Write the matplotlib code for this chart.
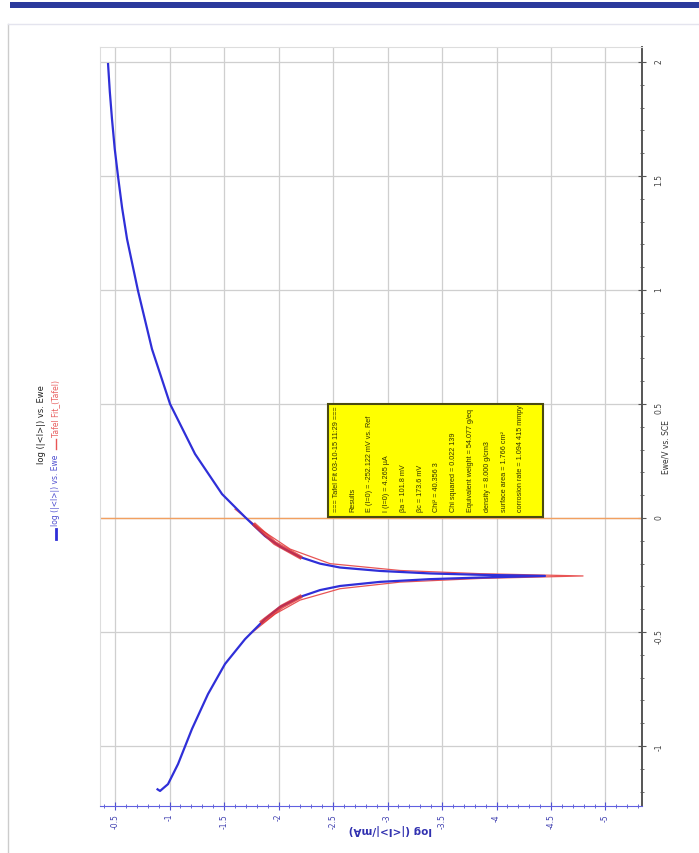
import matplotlib.pyplot as plt
import matplotlib.patches as mpatches
from matplotlib.lines import Line2D
import numpy as np

# measured curve, anodic branch then cathodic branch (log|I| , Ewe)
logi_an = [-0.436, -0.452, -0.472, -0.497, -0.528, -0.565, -0.610, -0.711, -0.839, -1.005,
           -1.234, -1.482, -1.693, -1.876, -2.015, -2.197, -2.381, -2.564, -2.931,
           -3.390, -3.849, -4.445]
ewe_an = [1.991, 1.870, 1.750, 1.620, 1.496, 1.360, 1.224, 0.996, 0.741, 0.500,
          0.281, 0.105, 0.004, -0.079, -0.125, -0.171, -0.200, -0.217, -0.232,
          -0.243, -0.249, -0.254]
logi_ca = [-3.849, -3.390, -2.931, -2.564, -2.381, -2.197, -2.015, -1.876, -1.693, -1.509,
           -1.353, -1.206, -1.078, -0.986, -0.913, -0.890]
ewe_ca = [-0.261, -0.268, -0.280, -0.298, -0.316, -0.346, -0.390, -0.443, -0.531, -0.640,
          -0.772, -0.925, -1.079, -1.167, -1.197, -1.190]

# tafel fit curve
fit_logi = [-1.601, -1.830, -2.106, -2.472, -3.115, -3.849, -4.794,
            -3.849, -3.115, -2.564, -2.197, -1.968, -1.739]
fit_ewe = [0.039, -0.048, -0.136, -0.200, -0.230, -0.244, -0.254,
           -0.265, -0.281, -0.310, -0.360, -0.421, -0.509]
# fitted regions
reg_an_logi = [-1.784, -1.967, -2.197]
reg_an_ewe = [-0.031, -0.110, -0.171]
reg_ca_logi = [-2.197, -2.032, -1.849]
reg_ca_ewe = [-0.346, -0.388, -0.455]

xticks = [-0.5, -1, -1.5, -2, -2.5, -3, -3.5, -4, -4.5, -5]
xlabels = ['-0.5', '-1', '-1.5', '-2', '-2.5', '-3', '-3.5', '-4', '-4.5', '-5']
yticks = [-1, -0.5, 0, 0.5, 1, 1.5, 2]
ylabels = ['-1', '-0.5', '0', '0.5', '1', '1.5', '2']

box_lines = [
    '=== Tafel Fit 03-10-15 11:29 ===',
    'Results',
    'E (I=0) = -252.122 mV vs. Ref',
    'I (I=0) = 4.265 \u00b5A',
    '\u03b2a = 101.8 mV',
    '\u03b2c = 173.6 mV',
    'Chi\u00b2 = 40.356 3',
    'Chi squared = 0.022 139',
    'Equivalent weight = 54.077 g/eq',
    'density = 8.000 g/cm3',
    'surface area = 1.766 cm\u00b2',
    'corrosion rate = 1.094 415 mmpy',
]

W, H = 699, 854
fig = plt.figure(figsize=(W / 100, H / 100), dpi=100)
fig.patch.set_facecolor('white')

# screenshot frame
fig.add_artist(mpatches.Rectangle((10 / W, 1 - 9 / H), 1, 6 / H, transform=fig.transFigure,
                                  color='#2b3a9c', lw=0))
fig.add_artist(Line2D([8 / W, 8 / W], [0, 1 - 25 / H], transform=fig.transFigure, color='#cccccc', lw=1))
fig.add_artist(Line2D([8 / W, 1], [1 - 25 / H, 1 - 25 / H], transform=fig.transFigure, color='#e4e4ee', lw=1))

ax = fig.add_axes([100 / W, 1 - 807 / H, 542 / W, 759 / H])
ax.set_xlim(-0.362, -5.335)
ax.set_ylim(-1.263, 2.066)

ax.set_xticks(xticks)
ax.set_xticklabels(xlabels)
ax.set_xticks(np.arange(-0.4, -5.31, -0.1), minor=True)
ax.set_yticks(yticks)
ax.set_yticklabels(ylabels)
ax.set_yticks(np.arange(-1.2, 2.05, 0.1), minor=True)
ax.yaxis.tick_right()
ax.tick_params(axis='x', which='both', direction='inout', colors='#5050d0', labelsize=5.5,
               labelrotation=90, labelcolor='#4040b0')
ax.tick_params(axis='x', which='major', length=6, pad=2)
ax.tick_params(axis='x', which='minor', length=3)
ax.tick_params(axis='y', which='both', direction='inout', colors='#555555', labelsize=5.5,
               labelrotation=90, labelcolor='#444444')
ax.tick_params(axis='y', which='major', length=6, pad=6)
ax.tick_params(axis='y', which='minor', length=3)

for s in ['left', 'top']:
    ax.spines[s].set_color('#dddddd')
    ax.spines[s].set_linewidth(0.8)
ax.spines['bottom'].set_color('#6060e0')
ax.spines['right'].set_color('#555555')
ax.spines['right'].set_linewidth(1.4)

ax.grid(True, which='major', color='#cfcfcf', lw=0.9)
ax.axhline(0, color='#f2a060', lw=1)

ax.plot(fit_logi, fit_ewe, color='#e85555', lw=0.9, zorder=3)
ax.plot(logi_an + logi_ca, ewe_an + ewe_ca, color='#2f2fd8', lw=1.6, zorder=4)
ax.plot(reg_an_logi, reg_an_ewe, color='#e03030', lw=3, alpha=0.8, zorder=5)
ax.plot(reg_ca_logi, reg_ca_ewe, color='#e03030', lw=3, alpha=0.8, zorder=5)

# results box
x0, x1 = (328 - 100) / 542, (543 - 100) / 542
y0, y1 = (807 - 518) / 759, (807 - 405) / 759
ax.add_patch(mpatches.Rectangle((x0, y0), x1 - x0, y1 - y0, transform=ax.transAxes,
                                facecolor='#ffff00', edgecolor='#4a4a10', lw=1.5, zorder=6))
for i, line in enumerate(box_lines):
    xp = 336 + i * 16.8
    ax.text((xp - 100) / 542, (807 - 512) / 759, line, transform=ax.transAxes, rotation=90,
            ha='center', va='bottom', fontsize=5.2, color='#333300', zorder=7,
            family='Liberation Sans')

# title, legend, axis labels
fig.text(42 / W, 1 - 425 / H, 'log (|<I>|) vs. Ewe', rotation=90, ha='center', va='center',
         fontsize=6, color='#222222')
fig.add_artist(Line2D([56 / W, 56 / W], [1 - 540 / H, 1 - 530 / H], transform=fig.transFigure,
                      color='#2f2fd8', lw=2))
fig.text(56 / W, 1 - 526 / H, 'log (|<I>|) vs. Ewe', rotation=90, ha='center', va='bottom',
         fontsize=5.5, color='#5050d0')
fig.add_artist(Line2D([56 / W, 56 / W], [1 - 450 / H, 1 - 440 / H], transform=fig.transFigure,
                      color='#e85555', lw=1))
fig.text(56 / W, 1 - 437 / H, 'Tafel Fit_(Tafel)', rotation=90, ha='center', va='bottom',
         fontsize=5.5, color='#e86060')
fig.text(666 / W, 1 - 447 / H, 'Ewe/V vs. SCE', rotation=90, ha='center', va='center',
         fontsize=5.5, color='#333333')
fig.text(390 / W, 1 - 830 / H, 'log (|<I>|/mA)', rotation=180, ha='center', va='center',
         fontsize=7.5, color='#3030b0', fontweight='bold')

fig.savefig('out.png', dpi=100)
